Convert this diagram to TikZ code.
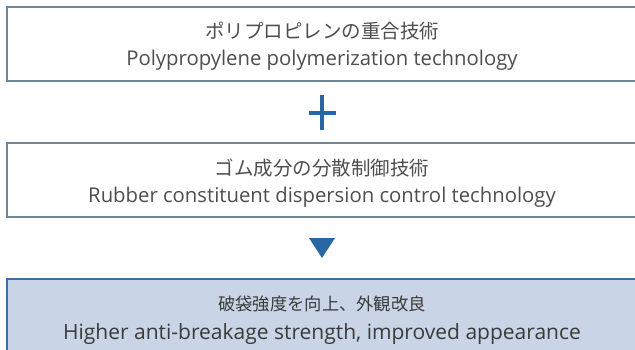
\documentclass[tikz,border=0pt]{standalone}
\usepackage{fontspec}
\usetikzlibrary{calc}
\setmainfont{Open Sans}
\newfontfamily\jp{Noto Sans CJK JP}
\definecolor{txt}{HTML}{3A3A3A}
\definecolor{txtlight}{HTML}{4E4E4E}
\definecolor{boxline}{HTML}{6F8893}
\definecolor{accent}{HTML}{2867A3}
\definecolor{resfill}{HTML}{C9D5E7}
\definecolor{resline}{HTML}{3D6FA6}
\begin{document}
\begin{tikzpicture}[x=1pt,y=-1pt,
  techbox/.style={draw=boxline, line width=2pt, fill=white, minimum width=630pt, minimum height=74pt, inner sep=0pt},
  resbox/.style={draw=resline, line width=2pt, fill=resfill, minimum width=630pt, minimum height=74pt, inner sep=0pt},
  jptext/.style={font=\jp\fontsize{19.5}{22}\selectfont, text=txtlight, inner sep=0pt},
  entext/.style={font=\fontsize{20.3}{23}\selectfont, text=txtlight, inner sep=0pt, anchor=base},
  jpres/.style={font=\jp\fontsize{17.3}{21}\selectfont, text=txt, inner sep=0pt},
  enres/.style={font=\fontsize{21}{24}\selectfont, text=txt, inner sep=0pt, anchor=base}]
\useasboundingbox (0,0) rectangle (635,350);
\clip (0,0) rectangle (635,350);
\node[techbox] (b1) at (322,44.5) {};
\node[jptext] (b1j) at (322,31.5) {ポリプロピレンの重合技術};
\node[entext] (b1e) at (322,66) {Polypropylene polymerization technology};
\node[techbox] (b2) at (322,180) {};
\node[jptext] (b2j) at (322,168) {ゴム成分の分散制御技術};
\node[entext] (b2e) at (322,203) {Rubber constituent dispersion control technology};
\node[resbox] (b3) at (322,316) {};
\node[jpres] (b3j) at (322,304) {破袋強度を向上、外観改良};
\node[enres] (b3e) at (322,339) {Higher anti-breakage strength, improved appearance};
\coordinate (plus) at (322,113);
\draw[accent, line width=4.5pt] ($(plus)+(-13.5,0)$) -- ($(plus)+(13.5,0)$);
\draw[accent, line width=4.5pt] ($(plus)+(0,-17.5)$) -- ($(plus)+(0,17.5)$);
\coordinate (tri) at (322,238);
\fill[accent] ($(tri)+(-13,0)$) -- ($(tri)+(13,0)$) -- ($(tri)+(0,20)$) -- cycle;
\end{tikzpicture}
\end{document}
